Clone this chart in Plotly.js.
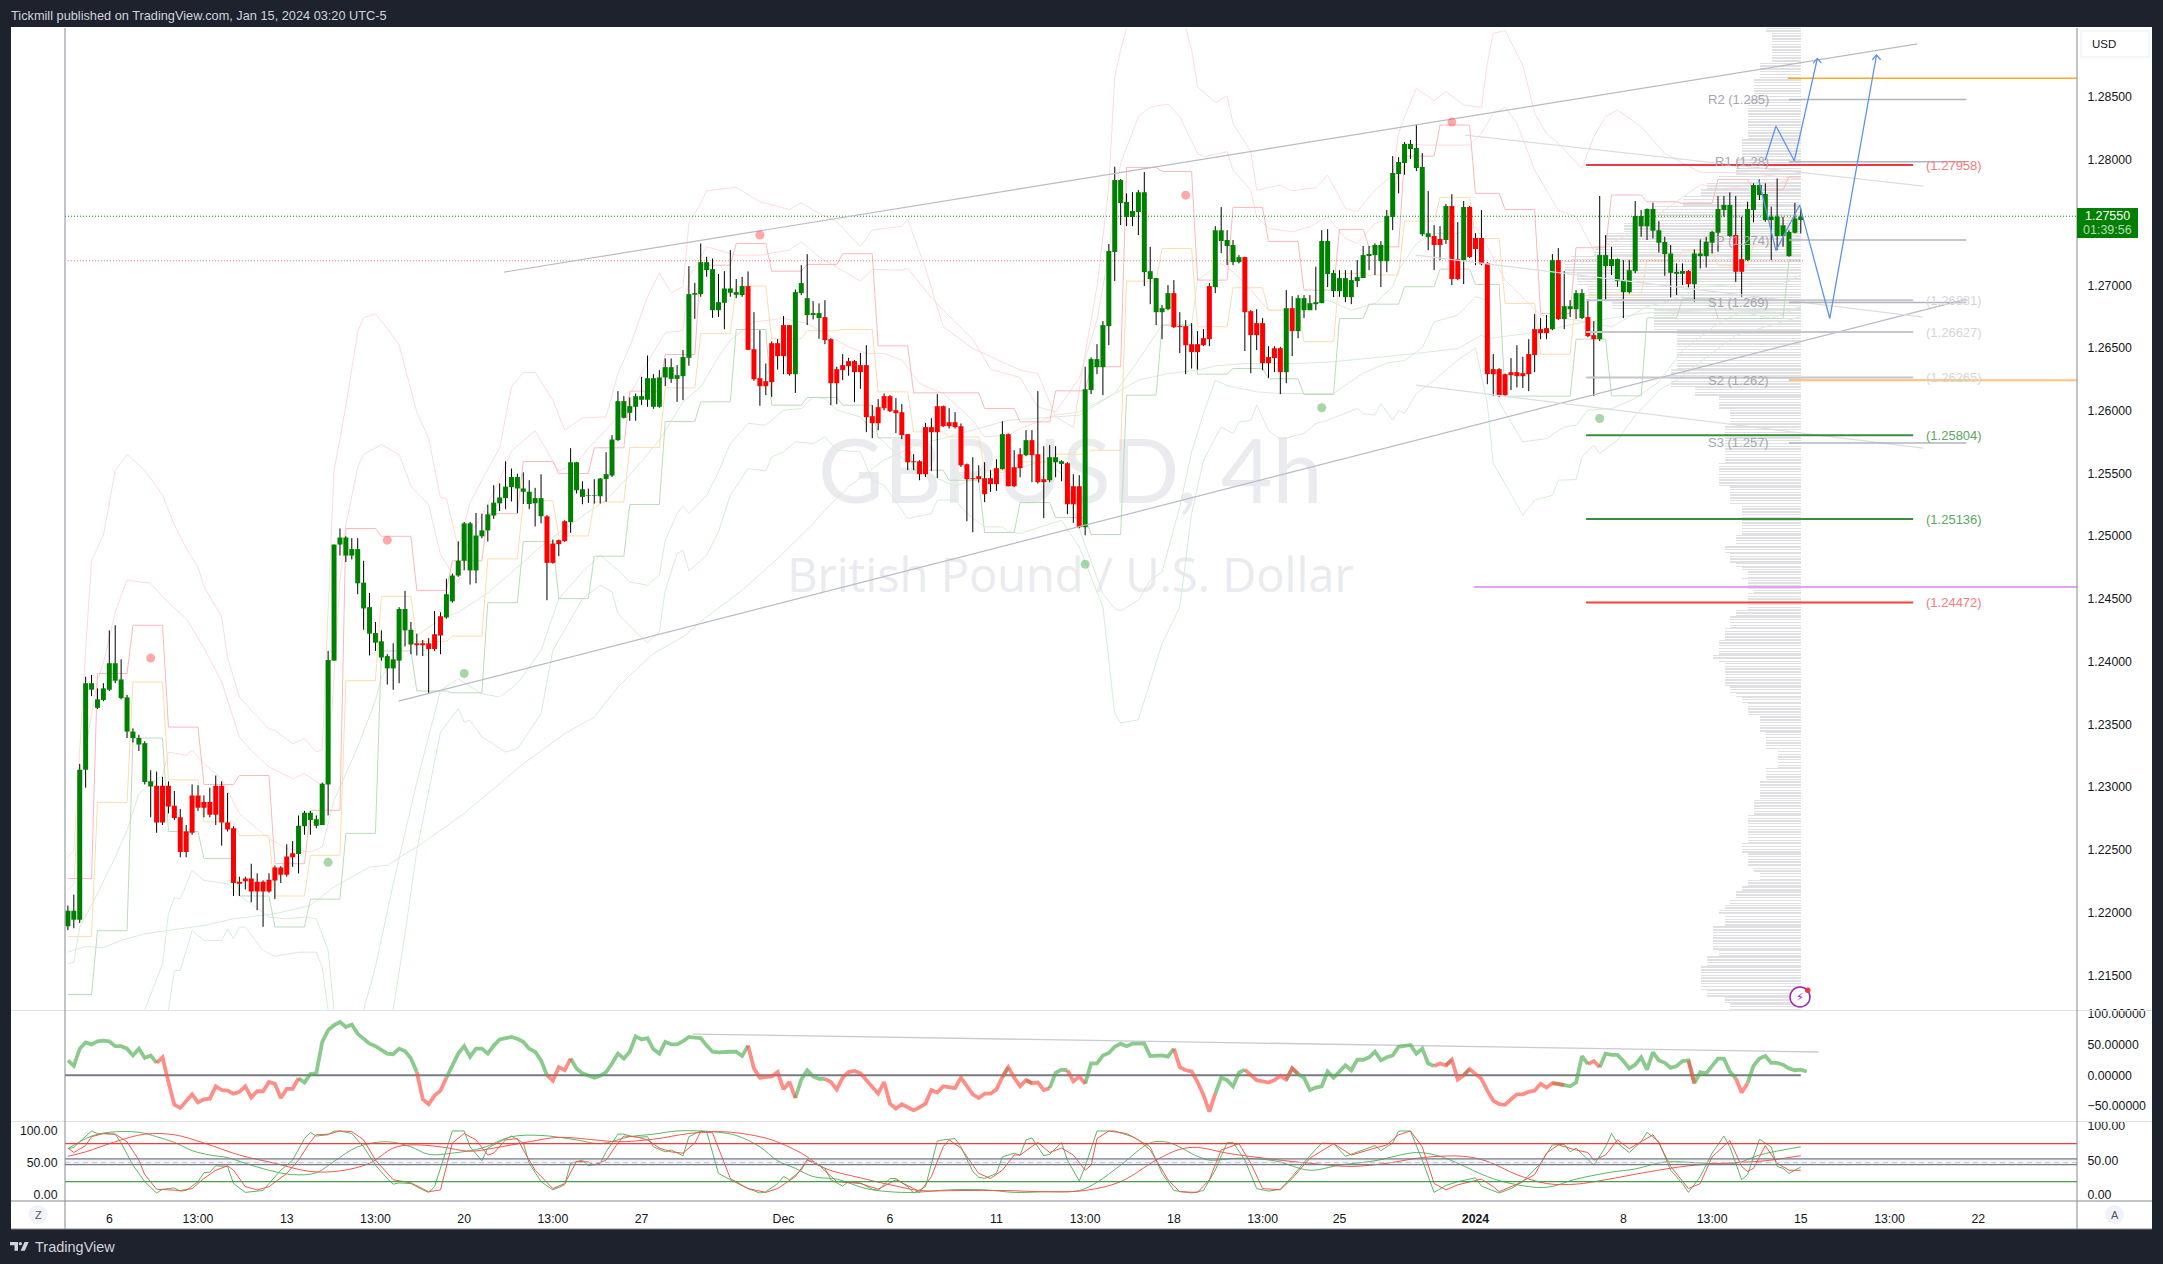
<!DOCTYPE html>
<html><head><meta charset="utf-8">
<script src="https://cdn.plot.ly/plotly-3.0.1.min.js"></script>
<style>html,body{margin:0;padding:0;background:#1e222d;overflow:hidden}</style></head>
<body><div id="chart" style="width:2163px;height:1264px"></div>
<script>
// ---- candles, prices in 1e-5 units ----
const bodyTop=[122014,122014,123139,123828,123828,123699,123787,123987,123987,123858,
123715,123442,123391,123350,123046,123010,123010,123010,122851,122759,
122646,122933,122933,122882,122882,123010,123010,122717,122672,122245,
122271,122271,122245,122245,122261,122358,122358,122446,122472,122692,
122795,122795,122743,123026,124013,124933,124989,124989,124897,124897,
124629,124434,124228,124162,124044,124018,124419,124419,124254,124146,
124146,124146,124218,124362,124537,124686,124804,125102,125102,125005,
125046,125174,125267,125308,125395,125472,125472,125380,125354,125303,125303,
125158,124941,124968,125119,125589,125589,125374,125326,125326,
125459,125494,125770,126076,126076,126036,126116,126116,126259,126259,
126265,126347,126347,126283,126427,126929,126937,127184,127184,127128,
126865,126974,126974,126945,126993,126993,126490,126259,126235,126538,
126538,126682,126682,126945,127017,126897,126778,126778,126746,126570,
126331,126363,126395,126395,126363,126363,125956,126028,126116,126116,
126004,125988,125813,125597,125597,125869,125869,126036,126036,125908,
125908,125876,125573,125462,125478,125462,125462,125542,125813,125813,
125549,125653,125765,125765,125653,125454,125629,125629,125597,125581,
125398,125398,126171,126411,126411,126682,127272,127838,127838,127663,
127591,127742,127742,127112,127057,126817,126937,126937,126674,126674,
126530,126530,126578,126993,127439,127439,127360,127320,127224,127224,
126793,126698,126698,126427,126498,126498,126817,126817,126897,126897,
126857,126865,127352,127352,127097,127057,127057,127041,127065,127240,
127248,127320,127320,127551,127894,127982,128125,128125,128093,127942,
127415,127392,127368,127631,127631,127208,127623,127623,127376,127376,
127176,126331,126331,126291,126307,126307,126299,126451,126650,126650,
126658,127200,127200,126833,126833,126937,126937,126746,126602,127240,
127240,127208,127208,127041,127120,127551,127551,127607,127607,127439,
127344,127253,127107,127113,127113,127253,127253,127346,127424,127607,
127639,127639,127400,127208,127607,127798,127798,127727,127546,127548,
127479,127424,127532,127548];
const bodyBot=[121891,121942,121942,123139,123776,123632,123694,123776,123848,123709,
123442,123391,123339,123041,123005,122717,122717,122846,122754,122482,
122482,122636,122836,122836,122779,122779,122717,122661,122235,122230,
122250,122168,122168,122168,122168,122256,122302,122302,122441,122466,
122687,122738,122692,122698,123021,124008,124933,124845,124845,124624,
124424,124223,124151,124033,123946,123946,124008,124249,124136,124131,
124131,124100,124100,124208,124352,124481,124686,124804,124727,124727,
124999,125046,125164,125262,125303,125390,125380,125354,125256,125262,125159,
124787,124787,124936,124960,125111,125366,125313,125321,125321,
125318,125456,125483,125765,125943,125983,126031,126087,126087,126031,
126031,126265,126254,126254,126275,126421,126924,126929,127120,126801,
126801,126860,126940,126924,126921,126485,126251,126195,126195,126227,
126435,126435,126291,126291,126937,126762,126762,126738,126562,126219,
126219,126323,126355,126307,126307,125948,125900,125900,126020,125996,
125980,125805,125589,125589,125494,125494,125829,125829,125876,125876,
125869,125565,125454,125454,125454,125334,125414,125414,125534,125398,
125398,125542,125645,125645,125430,125430,125446,125589,125576,125254,
125254,125071,125071,126164,126347,126347,126674,127264,127655,127543,
127543,127583,127104,127049,126785,126785,126809,126666,126666,126522,
126467,126467,126522,126570,126985,127352,127312,127184,127184,126785,
126602,126602,126379,126379,126419,126307,126307,126634,126634,126801,
126801,126849,126857,127089,126953,126953,126905,126905,127033,127057,
127232,127240,127192,127192,127543,127886,127974,128085,127934,127407,
127384,127320,127320,127360,127049,127049,127200,127224,127288,127168,
126291,126291,126124,126124,126283,126275,126275,126291,126443,126618,
126618,126650,126730,126730,126809,126809,126738,126594,126570,126570,
127152,127152,127033,126945,126945,127112,127471,127471,127434,127338,
127248,127099,127091,127091,127009,127009,127232,127232,127338,127418,
127599,127392,127107,127107,127200,127599,127719,127519,127519,127392,
127392,127232,127418,127519];
const high=[122055,122143,123185,123879,123894,123787,123828,124249,124290,124018,
123735,123468,123417,123365,123134,123123,123082,123046,122969,122826,
122698,123021,123015,122933,122995,123092,123046,122954,122687,122286,
122286,122389,122312,122256,122312,122374,122369,122544,122569,122774,
122810,122810,122774,123036,124085,124933,125061,124999,124984,124984,
124804,124547,124316,124249,124059,124146,124434,124563,124316,124223,
124172,124187,124403,124393,124660,124701,124958,125113,125113,125185,
125179,125251,125406,125421,125596,125539,125498,125508,125446,125385,125493,
125167,124973,124973,125127,125701,125592,125438,125379,125454,
125464,125669,125805,126156,126116,126105,126137,126270,126440,126291,
126323,126416,126416,126363,126483,127152,127019,127333,127227,127213,
127089,127112,127280,127049,127067,127110,126785,126642,126376,126552,
126570,126754,126682,126966,127160,127248,126873,126855,126881,126578,
126350,126451,126421,126403,126461,126522,126044,126092,126137,126124,
126100,126052,125813,125653,125605,125903,125940,126132,126041,126020,
125988,125898,125579,125629,125565,125589,125526,125613,125916,125818,
125685,125701,125845,125845,126156,125717,125725,125717,125605,125589,
125494,125486,126350,126424,126530,126714,127328,127944,127846,127732,
127742,127758,127902,127306,127057,126841,127001,127041,126785,126722,
126698,126634,126650,127017,127471,127623,127439,127360,127240,127227,
126801,126809,126738,126514,126514,126509,126961,126913,126921,126921,
126921,127147,127439,127447,127120,127120,127120,127120,127200,127312,
127312,127333,127352,127599,128029,128021,128141,128157,128277,128053,
127750,127479,127471,127647,127726,127503,127671,127631,127415,127599,
127184,126451,126339,126296,126419,126522,126429,126570,126770,126738,
126762,127248,127296,127112,126881,126961,126969,126889,126714,127711,
127400,127306,127213,127200,127200,127671,127599,127612,127657,127511,
127386,127320,127174,127174,127121,127285,127365,127386,127434,127711,
127711,127740,127711,127546,127665,127812,127843,127812,127626,127851,
127546,127439,127657,127612];
const low=[121860,121875,121917,122995,123725,123622,123684,123766,123828,123699,
123391,123355,123288,123021,122759,122636,122698,122790,122738,122441,
122441,122620,122810,122759,122759,122698,122533,122646,122132,122132,
122184,122081,122019,121886,122158,122107,122235,122286,122364,122312,
122620,122620,122672,122698,122774,124008,124845,124794,124814,124537,
124254,124049,124085,124008,123817,123776,123828,124121,124059,124049,
124044,123745,124085,124059,124342,124470,124676,124727,124614,124624,
124984,124958,125138,125200,125215,125277,125185,125256,125215,125077,125102,
124489,124781,124840,124955,125026,125340,125254,125265,125260,
125260,125273,125472,125760,125938,125919,125919,126044,126031,126015,
126023,126195,126222,126070,126084,126358,126732,126908,127067,126740,
126748,126650,126908,126897,126908,126483,126238,126039,126124,126110,
126328,126291,126280,126142,126921,126682,126727,126573,126530,126044,
126052,126243,126278,126068,126174,125829,125781,125845,126004,125988,
125821,125773,125526,125526,125446,125472,125518,125464,125871,125858,
125858,125552,125119,125031,125427,125271,125353,125361,125531,125398,
125390,125470,125637,125430,125419,125143,125430,125470,125438,125175,
125106,125063,125007,126132,126291,126124,126522,127033,127479,127471,
127471,127400,126993,126849,126682,126570,126801,126658,126459,126291,
126336,126328,126514,126514,126937,127256,127160,127160,127174,126475,
126299,126483,126323,126262,126307,126132,126219,126435,126578,126738,
126801,126801,126857,126985,126905,126908,126865,126849,126985,127057,
127120,127081,126985,127104,127439,127732,127881,128006,127910,127392,
127280,127120,127200,127328,127001,127041,127009,127216,127160,127160,
126211,126116,126108,126116,126164,126185,126180,126156,126307,126570,
126570,126642,126722,126650,126746,126730,126730,126586,126116,126554,
126881,127081,126988,126738,126934,127097,127386,127360,127373,127261,
127075,126903,126921,127001,126982,126868,127134,127142,127253,127267,
127546,127386,127027,126908,127195,127501,127679,127506,127200,127280,
127307,127227,127413,127413];
const trendRuns=[['G',15],['R',24],['G',20],['R',5],['G',17],['R',4],['G',30],['R',8],['G',5],['R',30],['G',1],['R',3],['G',1],['R',3],['G',3],['R',3],['G',15],['R',7],['G',5],['R',7],['G',1],['R',1],['G',23],['R',2],['G',1],['R',2],['G',1],['R',14],['G',1],['R',1],['G',4],['R',2],['G',15],['R',1],['G',7],['R',2],['G',10]];

// step channels: the bar each level starts at, and its price
const stepBars=[0,5,11,17,23,29,35,41,47,53,59,65,71,77,83,89,95,101,107,113,119,125,131,137,143,149,155,161,167,173,179,185,191,197,203,209,215,220,226,232,238,243,249,255,261,267,273,279,285,291,293];
const stepUpper=[122271,123905,124290,123478,123021,123092,122389,122815,125061,124999,124568,124804,125179,125595,125499,125704,126156,126448,127160,127333,127112,127166,127251,126517,126142,126142,126017,125911,126158,126350,127939,127907,127041,127620,127349,126961,127445,127306,128029,128277,127732,127604,126775,127299,127719,127665,127652,127843,127758,127865,127865];
const stepMid=[121808,122877,123838,123057,122723,122615,122132,122456,123848,124521,124162,124203,124819,125282,125002,125273,125706,126182,126615,126993,126573,126637,126647,126150,125831,125791,125526,125592,125653,125685,127033,127293,126669,126980,126801,126549,127094,127081,127511,127700,127373,126855,126450,126916,126921,127200,127275,127155,127328,127533,127533];
const stepLower=[121346,121855,123391,122646,122430,122132,121885,122107,122631,124085,123766,123751,124470,124958,124502,124840,125252,125914,126070,126647,126044,126105,126044,125783,125526,125446,125029,125268,125148,125013,126124,126682,126291,126336,126254,126129,126735,126849,126988,127128,127006,126116,126116,126570,126118,126740,126895,126735,126735,127200,127200];

// faint envelope curves: [bar, price]
const outerUpper=[[0,122442],[1,122495],[3,124090],[4,124804],[6,125009],[8,125523],[10,125652],[13,125523],[16,125328],[18,125087],[20,124907],[22,124753],[23,124598],[26,124357],[27,124033],[29,123718],[31,123612],[34,123465],[35,123452],[38,123346],[40,123386],[42,123279],[43,123300],[44,124400],[45,125523],[47,126037],[49,126628],[50,126741],[52,126772],[54,126654],[56,126525],[59,125986],[61,125780],[63,125307],[64,125302],[66,124907],[68,125266],[70,125446],[73,125703],[75,126191],[77,126304],[79,126304],[82,126084],[84,125845],[87,125943],[91,125951],[93,126296],[95,126509],[98,126908],[100,127099],[102,126940],[104,126988],[105,127493],[107,127652],[108,127753],[113,127780],[117,127665],[122,127604],[124,127657],[127,127572],[130,127506],[134,127306],[136,127439],[141,127471],[142,127524],[145,127134],[148,126669],[153,126496],[156,126429],[161,126323],[164,126296],[167,125951],[170,125866],[172,126456],[174,126988],[176,127785],[177,128662],[178,128875],[179,129048],[182,129700],[186,129700],[189,129048],[190,128875],[191,128582],[194,128457],[196,128508],[197,128290],[200,128064],[201,127758],[205,127798],[207,127753],[211,127777],[213,127878],[216,127612],[218,127586],[221,127758],[224,127878],[225,128210],[226,128343],[228,128569],[231,128471],[233,128543],[236,128436],[239,128418],[240,128768],[241,129008],[243,129029],[246,128755],[248,128370],[250,128210],[252,128131],[256,127931],[258,128184],[260,128343],[262,128396],[266,128263],[270,128050],[276,127900],[282,127900],[293,127850]];
const innerUpper=[[0,122176],[1,122229],[2,123027],[5,123851],[6,123987],[8,124393],[10,124650],[14,124624],[17,124470],[20,124342],[23,124110],[26,123840],[29,123399],[31,123290],[34,123160],[38,123067],[40,123107],[43,123014],[44,123107],[46,124650],[47,125087],[49,125550],[50,125652],[53,125729],[56,125652],[58,125400],[61,125250],[63,124855],[66,124624],[68,125010],[70,125164],[73,125450],[75,125678],[79,125841],[83,125520],[86,125580],[88,125700],[90,125800],[93,125950],[98,126385],[101,126620],[104,126640],[105,127066],[108,127307],[113,127240],[117,127240],[122,127280],[124,127346],[127,127226],[134,127033],[136,127126],[141,127120],[142,127134],[146,126900],[148,126800],[153,126570],[156,126330],[161,126264],[164,126030],[167,125990],[171,126257],[174,126722],[176,127253],[177,127679],[178,127971],[181,128343],[183,128418],[186,128444],[188,128343],[191,128051],[192,128024],[196,128064],[197,127918],[200,127758],[201,127546],[203,127453],[207,127426],[210,127466],[213,127546],[216,127373],[218,127333],[221,127493],[223,127519],[224,127679],[226,128131],[229,128117],[237,128117],[239,128210],[241,128370],[243,128418],[245,128290],[248,127918],[252,127599],[255,127546],[258,127280],[262,127360],[266,127466],[270,127600],[276,127800],[282,127780],[288,127800],[293,127865]];
const centerBand=[[0,121592],[1,121605],[2,121884],[5,122150],[8,122442],[10,122655],[12,122947],[14,123027],[16,123093],[17,123279],[20,123253],[21,123293],[23,123186],[26,123067],[29,122788],[34,122588],[37,122508],[41,122482],[43,122522],[45,122894],[49,123319],[52,123691],[53,123877],[57,124136],[63,124342],[66,124393],[71,124547],[76,124753],[81,124958],[88,125193],[91,125286],[95,125486],[100,125765],[104,126070],[107,126190],[110,126429],[112,126562],[116,126708],[121,126735],[125,126695],[128,126615],[132,126509],[135,126456],[138,126456],[141,126403],[144,126217],[148,126137],[153,125924],[155,125791],[159,125805],[161,125858],[167,125964],[171,125990],[177,126137],[181,126403],[185,126682],[190,126682],[191,127041],[195,127174],[197,127107],[200,126961],[203,126801],[206,126801],[213,126881],[217,126801],[221,126855],[224,126988],[225,127120],[228,127333],[231,127413],[235,127413],[238,127466],[240,127307],[243,127041],[247,126855],[249,126762],[251,126748],[255,126722],[261,126669],[267,126828],[273,126908],[276,126988],[285,127014],[290,127014],[293,127081]];
const centerPink=[[16,43],[116,171],[191,206],[238,251]];
const longAverage=[[0,121684],[3,121730],[6,121719],[9,121778],[13,121831],[17,121857],[23,121897],[28,121950],[35,121990],[41,122057],[45,122203],[51,122362],[54,122376],[57,122469],[59,122522],[63,122655],[67,122788],[71,122947],[77,123186],[84,123426],[89,123558],[93,123798],[95,123891],[99,124064],[104,124197],[108,124356],[114,124569],[120,124821],[126,125100],[128,125207],[132,125393],[138,125606],[144,125738],[148,125780],[159,125924],[171,125964],[174,126050],[177,126137],[181,126243],[186,126296],[191,126323],[194,126357],[199,126376],[208,126376],[214,126390],[223,126430],[228,126456],[235,126496],[239,126602],[240,126575],[249,126629],[255,126695],[261,126740],[267,126780],[279,126800],[285,126790],[291,126800],[293,126830]];
const innerLower=[[13,121225],[16,121591],[17,121990],[18,122118],[19,122110],[21,122336],[23,122256],[27,122229],[29,122136],[34,121964],[37,121950],[40,121964],[42,121950],[44,121698],[45,121219],[47,120700],[50,121225],[52,121565],[55,122229],[59,123040],[63,123771],[66,123864],[70,123744],[73,123718],[76,123824],[80,124090],[83,124500],[87,124715],[90,124848],[93,124728],[95,124635],[98,124609],[100,124689],[101,124968],[103,125180],[104,125239],[105,125180],[108,125326],[110,125513],[112,125738],[115,125898],[118,125885],[121,126004],[124,126017],[126,126110],[128,126097],[130,126004],[134,125951],[137,125791],[140,125658],[145,125500],[150,125400],[155,125480],[159,125520],[165,125600],[168,125500],[171,125061],[175,124542],[177,124423],[178,124404],[181,124489],[183,124649],[185,124715],[188,125233],[190,125671],[192,125977],[194,126243],[196,126200],[201,126150],[205,126137],[209,126137],[214,126137],[219,126300],[223,126380],[226,126400],[229,126500],[231,126709],[235,126762],[238,126908],[240,126880],[241,126200],[242,126070],[246,125751],[250,125778],[253,125871],[255,125884],[257,126004],[261,126017],[265,126097],[269,126230],[273,126480],[279,126695],[283,126789],[288,126735],[293,126828]];
const outerLower=[[17,121225],[18,121538],[19,121538],[20,121698],[21,121857],[23,121778],[26,121778],[27,121871],[28,121791],[29,121884],[30,121884],[33,121698],[35,121650],[39,121684],[42,121684],[43,121565],[44,121225],[46,120540],[55,121225],[57,121831],[59,122495],[63,123439],[66,123625],[67,123519],[68,123532],[70,123399],[74,123279],[76,123306],[80,123585],[82,124090],[87,124500],[90,124609],[92,124556],[93,124383],[96,124237],[98,124152],[100,124237],[101,124569],[103,124861],[104,124888],[105,124723],[108,124848],[110,125034],[112,125326],[115,125539],[118,125520],[119,125632],[121,125672],[123,125752],[126,125738],[128,125792],[130,125685],[134,125672],[136,125446],[138,125406],[142,125140],[146,125180],[147,125287],[150,125287],[152,125180],[155,125074],[158,125074],[159,125034],[161,125021],[168,125127],[171,124914],[175,124436],[177,123585],[178,123511],[181,123537],[185,124143],[188,124435],[190,125180],[192,125605],[195,125871],[197,125818],[198,125911],[200,125924],[201,126044],[203,125844],[205,125770],[209,125818],[211,125897],[213,125924],[218,126017],[219,125977],[221,125964],[222,126057],[224,125924],[225,126004],[226,125977],[228,126137],[231,126243],[235,126403],[238,126500],[240,126057],[241,125578],[243,125419],[246,125166],[248,125286],[251,125326],[252,125446],[255,125451],[256,125632],[258,125725],[259,125658],[262,125765],[265,125964],[267,126057],[269,126163],[272,126243],[282,126600],[293,126750]];

// pivots and trend markers
const redDotBar=[14,54,117,189,234], redDotPrice=[124028,124968,127400,127718,128300];
const greenDotBar=[44,67,172,212,259], greenDotPrice=[122400,123905,124776,126023,125938];
const lastPrice=127550, redDotted=127195;
const levelVals=[127958,126881,126627,126265,125804,125136,124472];
const levelLabels=['(1.27958)','(1.26881)','(1.26627)','(1.26265)','(1.25804)','(1.25136)','(1.24472)'];
const levelColors=['#f23645','#c4c6cc','#c4c6cc','#c4c6cc','#388e3c','#388e3c','#f44336'];
const levelTextColors=['#f77c80','#d5d6da','#d5d6da','#d5d6da','#5aa75e','#5aa75e','#f77c80'];
const pivotVals=[128481,127984,127360,126863,126243,125743];
const pivotLabels=['R2 (1.285)','R1 (1.28)','P (1.274)','S1 (1.269)','S2 (1.262)','S3 (1.257)'];
const wedgeUpX=[73.7,312.7], wedgeUpP=[127104,128923];
const wedgeLowX=[55.9,321], wedgeLowP=[123685,126889];
const chanX=[236.3,313.7], chanTop=[128197,127790];
const chanX2=[227.9,313.7], chanMid=[127240,126746], chanBot=[126203,125701];
const arrow1X=[287,288.8,291.9,295.8], arrow1P=[127998,128269,127992,128808];
const arrow2X=[285.9,288.8,292.8,297.9,305.8], arrow2P=[127838,127275,127639,126735,128835];
const head1X=[295.1,295.8,296.5], head1P=[128770,128808,128770];
const head2X=[305.1,305.8,306.5], head2P=[128797,128835,128797];

// volume profile: run start price -> row count
const profilePrice=[129048,129008,128768,128636,128476,128157,127998,127865,127812,127758,127705,127626,127493,127413,127307,127227,127187,127094,126988,126881,126802,126642,126323,126190,126110,126004,125871,125579,125393,125259,125007,124914,124861,124781,124754,124714,124661,124648,124568,124542,124409,124356,124263,124170,124050,124023,123984,123798,123744,123718,123665,123558,123439,123306,123146,123040,122894,122774,122548,122468,122375,122309,122256,122203,122163,122096,122057,122017,121990,121884,121698,121645,121565,121379,121326,121272,121220];
const profileCount=[6,5,7,8,9,10,11,14,16,17,20,25,30,33,35,39,40,38,36,32,25,21,22,18,14,12,13,14,12,10,11,13,12,11,10,9,10,9,8,9,11,12,13,14,15,14,13,12,11,10,9,7,6,4,6,7,8,9,10,9,8,7,9,10,11,12,13,14,13,15,14,16,17,16,13,12,12];

// CCI, one value per bar
const cci=[24,15,43,53,50,55,56,55,47,47,43,32,43,28,32,20,29,-11,-48,-53,-42,-31,-44,-39,-38,-18,-24,-25,-30,-27,-18,-36,-26,-26,-11,-14,-37,-22,-22,-5,-12,2,3,54,73,81,86,78,82,67,58,51,47,41,35,34,43,39,27,5,-39,-47,-33,-25,-4,16,35,47,30,43,43,35,48,58,60,62,59,54,43,38,24,0,-9,13,8,27,11,3,0,-4,-1,5,19,35,27,38,63,58,60,42,35,54,50,50,55,62,61,60,48,38,37,
38,38,38,31,48,11,-4,-3,-2,5,-23,-11,-37,-7,8,-2,-6,-6,-11,-23,-4,5,7,3,-8,-19,-30,-11,-46,-54,-47,-52,-57,-52,-46,-24,-28,-18,-20,-21,-4,-18,-31,-37,-30,-30,-23,-3,13,-4,-18,-8,-13,-12,-24,-21,4,9,8,-10,-2,-14,19,19,32,36,46,51,47,51,51,51,31,31,32,30,43,13,8,6,-11,-32,-59,-30,-4,-8,-18,4,9,0,-8,-10,-12,-8,-1,-7,11,2,-4,-24,-20,-18,6,-4,5,16,8,25,25,29,38,24,29,32,46,47,49,35,43,19,15,19,
16,25,-7,0,10,1,-6,-25,-41,-47,-48,-39,-31,-31,-27,-25,-14,-20,-13,-14,-16,-18,-12,31,18,23,13,35,33,33,23,11,17,29,9,37,24,20,12,15,23,24,-13,5,3,16,27,27,6,-5,-28,-13,15,27,31,20,20,17,11,8,9,6];
const cciTrendX=[105.7,296], cciTrendV=[66.6,37.6];

// stochastics
const kX=[0,1,2,4,5,8,9,11,13,15,16,18,19,20,22,23,24,25,27,28,30,33,34,36,38,40,41,42,44,45,46,48,50,52,54,55,56,58,60,61,62,64,65,67,68,70,71,73,75,77,78,80,82,84,85,87,88,90,91,93,94,96,98,99,101,102,104,105,107,108,110,112,115,117,118,120,121,122,124,125,128,129,131,132,134,136,137,139,140,142,143,145,147,148,150,151,153,154,155,157,158,160,161,162,163,165,166,168,169,171,172,174,177,180,183,185,187,190,192,194,196,197,199,201,203,205,207,210,212,214,216,219,221,222,224,225,227,229,231,233,235,238,239,242,244,246,249,251,253,254,255,258,260,261,262,264,266,267,269,271,273,274,276,278,280,281,283,284,286,288,289,290,291,293];
const kV=[72,74,83,100,96,95,81,46,20,2,8,10,5,6,20,34,35,45,44,17,3,6,17,38,54,88,98,92,94,100,100,96,75,46,25,16,18,17,7,3,12,70,100,100,75,53,73,83,92,81,49,20,7,15,49,54,45,49,67,95,95,90,91,75,67,70,61,91,100,99,33,23,9,2,4,17,28,23,38,55,41,23,13,20,18,8,6,25,25,12,2,12,84,86,88,75,36,27,25,33,59,65,62,86,89,61,63,82,54,21,44,100,100,91,75,33,6,2,6,38,82,82,54,9,5,8,28,61,81,80,60,70,77,69,81,100,100,54,3,14,20,26,13,2,9,20,49,78,79,67,73,46,75,96,81,66,83,98,83,38,17,3,28,65,92,75,23,31,87,75,44,41,33,43];
const dX=[0,1,3,4,6,8,10,12,13,15,17,19,21,23,25,27,28,30,32,34,37,39,41,42,44,46,48,50,52,55,58,60,61,63,64,65,67,69,71,72,74,76,77,79,82,84,86,88,89,91,93,94,96,98,100,102,104,106,107,109,112,115,118,120,123,125,127,130,134,137,140,143,144,146,148,149,151,154,156,158,160,161,164,166,168,170,172,173,174,176,179,181,183,186,188,191,193,195,198,200,202,205,207,210,214,217,221,223,225,227,229,231,233,235,239,241,242,245,248,250,252,255,257,258,260,262,264,266,268,269,271,274,276,278,281,283,284,285,287,289,291,293];
const dV=[73,66,77,91,96,95,83,54,31,8,7,6,9,25,38,45,38,12,7,12,33,54,83,94,95,100,99,86,54,23,18,9,4,7,44,81,96,86,62,65,86,88,70,38,9,17,52,51,46,54,81,92,91,86,73,67,65,81,99,97,25,9,3,9,28,54,46,20,17,8,23,9,3,28,75,86,73,33,25,38,62,62,82,66,73,62,38,46,88,100,96,86,70,23,4,3,23,70,80,49,9,7,25,57,80,62,73,78,94,100,75,17,7,15,24,12,4,16,31,65,78,70,66,54,62,86,72,83,94,81,44,9,17,59,85,44,36,41,77,49,38,38];
const slowGreenX=[0,2,4,7,12,15,18,21,24,27,30,34,38,42,45,49,54,58,61,65,70,75,80,86,90,95,99,103,107,110,113,117,120,123,126,130,132,135,139,143,149,155,160,165,171,174,178,183,186,191,193,198,204,210,215,221,228,232,235,240,244,250,255,261,265,270,277,282,286,290,293];
const slowGreen=[72,83,92,98,98,91,82,69,62,58,49,38,31,34,52,75,83,75,63,65,73,91,93,86,80,91,95,100,100,98,93,75,53,41,28,24,18,9,4,3,7,7,3,4,6,19,46,81,82,60,54,57,53,38,46,53,66,60,49,28,17,11,24,35,40,51,49,49,62,70,75];
const slowRedX=[0,3,8,13,18,23,29,35,41,46,51,55,58,63,68,72,78,83,89,93,99,105,110,114,119,124,128,134,140,144,151,158,166,172,178,184,188,191,196,204,210,217,223,229,236,240,245,250,255,260,267,274,280,287,293];
const slowRed=[60,67,83,95,94,81,62,49,36,37,49,73,78,75,68,73,83,90,86,83,87,96,99,96,86,65,41,26,13,6,6,6,4,6,20,54,71,74,65,55,49,44,49,58,60,52,31,17,16,23,35,45,49,53,61];
const stochLevels=[80,20,56,47,50];

// axis labels
const tickBars=[7,22,37,52,67,82,97,121,139,157,172,187,202,215,238,263,278,293,308,323];
const tickText=['6','13:00','13','13:00','20','13:00','27','Dec','6','11','13:00','18','13:00','25','<b>2024</b>','8','13:00','15','13:00','22'];
const priceTicks=[1.215,1.22,1.225,1.23,1.235,1.24,1.245,1.25,1.255,1.26,1.265,1.27,1.28,1.285];

// ---- helpers for placing page furniture ----
const PL=65,PR=2077,PT=28,PB=1201;
const X=p=>(p-PL)/(PR-PL), Y=p=>(PB-p)/(PB-PT);
const pr=a=>a.map(v=>v==null?null:v/1e5);
const trend=[];trendRuns.forEach(([c,n])=>{for(let k=0;k<n;k++)trend.push(c);});
const lastBar=bodyTop.length-1, rightEdge=339.7;

function segs(cond){const x=[],a=[];for(let i=0;i<bodyTop.length;i++){if(cond(i)){x.push(i,i,null);a.push(bodyTop[i]/1e5,bodyBot[i]/1e5,null);}}return{x,y:a};}
function line(x,y,color,width,extra){return Object.assign({type:'scatter',mode:'lines',x,y,line:Object.assign({color,width},extra&&extra.line||{}),hoverinfo:'skip',showlegend:false},extra&&extra.t||{});}
function stepLine(vals,color){const x=[],y=[];vals.forEach((v,k)=>{if(k>0){x.push(stepBars[k]-1);y.push(vals[k-1]/1e5);}x.push(stepBars[k]);y.push(v/1e5);});return line(x,y,color,1);}
function band(pairs,color){return line(pairs.map(p=>p[0]),pairs.map(p=>p[1]/1e5),color,1);}

const traces=[];
// volume profile rows
{const ys=[],xs=[],bs=[];
 for(let r=0;r<profilePrice.length-1;r++){
  for(let p=profilePrice[r];p>profilePrice[r+1];p-=22){ys.push(p/1e5);xs.push(profileCount[r]);bs.push(293.1-profileCount[r]);}
 }
 traces.push({type:'bar',orientation:'h',y:ys,x:xs,base:bs,width:0.00011,marker:{color:'#e0e0e3',line:{width:0}},hoverinfo:'skip',showlegend:false});}
// watermark
traces.push({type:'scatter',mode:'text',x:[169.5],y:[1.25445],text:['GBPUSD, 4h'],textfont:{family:'Lato',size:90,color:'#e9ebee'},textposition:'middle center',hoverinfo:'skip',showlegend:false});
traces.push({type:'scatter',mode:'text',x:[169.5],y:[1.24650],text:['British Pound / U.S. Dollar'],textfont:{family:'Open Sans',size:47,color:'#e9ebee'},textposition:'middle center',hoverinfo:'skip',showlegend:false});
// envelopes
const pinkBand='#fcdcdc', greenBand='#d8ecd8';
traces.push(band(outerUpper,pinkBand));
traces.push(band(innerUpper,pinkBand));
traces.push(band(longAverage,greenBand));
traces.push(band(innerLower,greenBand));
traces.push(band(outerLower,greenBand));
{const inPink=x=>centerPink.some(([a,b])=>x>=a&&x<=b), inside=x=>centerPink.some(([a,b])=>x>a&&x<b);
 traces.push(line(centerBand.map(p=>p[0]),centerBand.map(p=>inside(p[0])?null:p[1]/1e5),greenBand,1));
 traces.push(line(centerBand.map(p=>p[0]),centerBand.map(p=>inPink(p[0])?p[1]/1e5:null),pinkBand,1));}
// step channels
traces.push(stepLine(stepUpper,'#f9b9bd'));
traces.push(stepLine(stepMid,'#fddcb0'));
traces.push(stepLine(stepLower,'#bcdcbc'));
// dotted lines
traces.push(line([-0.5,rightEdge],[lastPrice/1e5,lastPrice/1e5],'#008000',1,{line:{dash:'1px 2px'}}));
traces.push(line([0,lastBar+0.5],[redDotted/1e5,redDotted/1e5],'#ff6b6b',1,{line:{dash:'1px 2px'}}));
// candles
{const wx=[],wy=[];for(let i=0;i<high.length;i++){wx.push(i,i,null);wy.push(high[i]/1e5,low[i]/1e5,null);}
 traces.push(line(wx,wy,'#000000',1));
 const g=segs(i=>trend[i]==='G'),r=segs(i=>trend[i]==='R');
 traces.push(line(g.x,g.y,'#008000',5));
 traces.push(line(r.x,r.y,'#ff0000',5));}
// drawings
traces.push(line(wedgeUpX,pr(wedgeUpP),'#b8bac6',1.2));
traces.push(line(wedgeLowX,pr(wedgeLowP),'#b8bac6',1.2));
traces.push(line(chanX,pr(chanTop),'#dcdde2',1.3));
traces.push(line(chanX2,pr(chanMid),'#dcdde2',1.3));
traces.push(line(chanX2,pr(chanBot),'#dcdde2',1.3));
const annos=[];
levelVals.forEach((v,i)=>{
 traces.push(line([256.7,312],[v/1e5,v/1e5],levelColors[i],2));
 annos.push({xref:'x',yref:'y',x:313.9,y:v/1e5,text:levelLabels[i],showarrow:false,xanchor:'left',yanchor:'middle',font:{family:'Liberation Sans',size:13,color:levelTextColors[i]}});
});
pivotVals.forEach((v,i)=>{
 traces.push(line([291,321],[v/1e5,v/1e5],'#b2b5be',1.5));
 annos.push({xref:'x',yref:'y',x:288,y:v/1e5,text:pivotLabels[i],showarrow:false,xanchor:'right',yanchor:'middle',font:{family:'Liberation Sans',size:13,color:'#a3a6af'}});
});
traces.push(line([290.8,rightEdge],[1.28649,1.28649],'#ffa726',1.5));
traces.push(line([291,rightEdge],[1.26243,1.26243],'#ffc477',2));
traces.push(line([237.7,rightEdge],[1.24595,1.24595],'#e5a0f5',2));
traces.push(line(arrow1X,pr(arrow1P),'#5b93f3',1.3));
traces.push(line(arrow2X,pr(arrow2P),'#5b93f3',1.3));
traces.push(line(head1X,pr(head1P),'#5b93f3',1.3));
traces.push(line(head2X,pr(head2P),'#5b93f3',1.3));
traces.push({type:'scatter',mode:'markers',x:redDotBar,y:pr(redDotPrice),marker:{size:9,color:'rgba(255,82,82,0.5)'},hoverinfo:'skip',showlegend:false});
traces.push({type:'scatter',mode:'markers',x:greenDotBar,y:pr(greenDotPrice),marker:{size:9,color:'rgba(76,175,80,0.5)'},hoverinfo:'skip',showlegend:false});

// CCI pane
{const xs=[],g=[],r=[];
 traces.push(Object.assign(line(cciTrendX,cciTrendV,'#c9cad2',1.3),{yaxis:'y2'}));
 traces.push(Object.assign(line([-0.5,lastBar],[0,0],'#787b86',2),{yaxis:'y2'}));
 cci.forEach((v,i)=>{xs.push(i);const isG=trend[i]==='G',prevG=i>0&&trend[i-1]==='G',prevR=i>0&&trend[i-1]==='R';
   g.push(isG||prevG?v:null);
   r.push(!isG||prevR?v:null);});
 traces.push(Object.assign(line(xs,g,'rgba(76,175,80,0.65)',3.8),{yaxis:'y2'}));
 traces.push(Object.assign(line(xs,r,'rgba(255,82,70,0.65)',3.8),{yaxis:'y2'}));
}
// Stochastic pane
traces.push(Object.assign(line(slowGreenX,slowGreen,'#5cb562',1,{line:{shape:'spline'}}),{yaxis:'y3'}));
traces.push(Object.assign(line(slowRedX,slowRed,'#f4574f',1,{line:{shape:'spline'}}),{yaxis:'y3'}));
traces.push(Object.assign(line(kX,kV,'#5cb562',1),{yaxis:'y3'}));
traces.push(Object.assign(line(dX,dV,'#f4574f',1),{yaxis:'y3'}));
['#f23c3c','#43a047','#787b86','#787b86'].forEach((c,i)=>{traces.push(Object.assign(line([-0.5,rightEdge],[stochLevels[i],stochLevels[i]],c,1.2),{yaxis:'y3'}));});
traces.push(Object.assign(line([-0.5,rightEdge],[stochLevels[4],stochLevels[4]],'#c2c4ca',1,{line:{dash:'5px 4px'}}),{yaxis:'y3'}));
// invisible carrier for the right-hand stochastic scale
traces.push({type:'scatter',mode:'lines',x:[0,1],y:[0,100],line:{color:'rgba(0,0,0,0)',width:0},yaxis:'y4',hoverinfo:'skip',showlegend:false});

const txt='#131722', uiFont='Liberation Sans';
const shapes=[
 {type:'rect',xref:'paper',yref:'paper',x0:X(11),x1:X(2152),y0:Y(27),y1:Y(1229),fillcolor:'#ffffff',line:{width:0},layer:'below'},
 {type:'rect',xref:'x',yref:'y3',x0:-0.5,x1:rightEdge,y0:47,y1:56,fillcolor:'#f3f4f8',line:{width:0},layer:'below'},
 {type:'line',xref:'paper',yref:'paper',x0:X(11),x1:X(2152),y0:Y(1010.5),y1:Y(1010.5),line:{color:'#e0e3eb',width:1}},
 {type:'line',xref:'paper',yref:'paper',x0:X(11),x1:X(2152),y0:Y(1121.5),y1:Y(1121.5),line:{color:'#e0e3eb',width:1}},
 {type:'line',xref:'paper',yref:'paper',x0:X(11),x1:X(2152),y0:Y(1201),y1:Y(1201),line:{color:'#868993',width:1}},
 {type:'line',xref:'paper',yref:'paper',x0:X(11),x1:X(2152),y0:Y(1229),y1:Y(1229),line:{color:'#868993',width:1}},
 {type:'line',xref:'paper',yref:'paper',x0:X(65),x1:X(65),y0:Y(28),y1:Y(1229),line:{color:'#868993',width:1}},
 {type:'line',xref:'paper',yref:'paper',x0:X(2077),x1:X(2077),y0:Y(28),y1:Y(1229),line:{color:'#868993',width:1}},
 {type:'circle',xref:'paper',yref:'paper',x0:X(28.5),x1:X(47.5),y0:Y(1205),y1:Y(1224),fillcolor:'#f0f3fa',line:{width:0}},
 {type:'circle',xref:'paper',yref:'paper',x0:X(2105),x1:X(2124),y0:Y(1205),y1:Y(1224),fillcolor:'#f0f3fa',line:{width:0}},
 {type:'rect',xref:'paper',yref:'paper',x0:X(2081),x1:X(2149),y0:Y(31),y1:Y(57),fillcolor:'#ffffff',line:{color:'#f0f3fa',width:1.5}},
 {type:'rect',xref:'paper',yref:'paper',x0:X(2077),x1:X(2138),y0:Y(208),y1:Y(238),fillcolor:'#008000',line:{width:0}},
 {type:'circle',xref:'paper',yref:'paper',x0:X(1790),x1:X(1810),y0:Y(987),y1:Y(1007),fillcolor:'rgba(255,255,255,0.9)',line:{color:'#9c27b0',width:1.5}},
 {type:'circle',xref:'paper',yref:'paper',x0:X(1805),x1:X(1810.5),y0:Y(987.5),y1:Y(993),fillcolor:'#f23645',line:{width:0}},
 // TradingView mark
 {type:'path',xref:'paper',yref:'paper',path:`M${X(10)},${Y(1242)} L${X(18)},${Y(1242)} L${X(18)},${Y(1250.7)} L${X(14.5)},${Y(1250.7)} L${X(14.5)},${Y(1245.3)} L${X(10)},${Y(1245.3)} Z`,fillcolor:'#d1d4dc',line:{width:0}},
 {type:'circle',xref:'paper',yref:'paper',x0:X(18.7),x1:X(22),y0:Y(1242),y1:Y(1245.3),fillcolor:'#d1d4dc',line:{width:0}},
 {type:'path',xref:'paper',yref:'paper',path:`M${X(24.5)},${Y(1242)} L${X(28.7)},${Y(1242)} L${X(24.8)},${Y(1250.7)} L${X(20.6)},${Y(1250.7)} Z`,fillcolor:'#d1d4dc',line:{width:0}}
];
const pa=(px,py,text,size,color,anchor,extra)=>Object.assign({xref:'paper',yref:'paper',x:X(px),y:Y(py),text,showarrow:false,xanchor:anchor||'left',yanchor:'middle',font:{family:uiFont,size,color}},extra||{});
annos.push(pa(9,15,'Tickmill published on TradingView.com, Jan 15, 2024 03:20 UTC-5',12.75,'#d1d4dc'));
annos.push(pa(33,1247,'TradingView',14.5,'#d1d4dc'));
annos.push(pa(38,1215,'Z',11,'#50535e','center'));
annos.push(pa(2114.5,1215,'A',11,'#50535e','center'));
annos.push(pa(2090,44,'USD',11.5,txt));
annos.push(pa(2107,215.5,'1.27550',12.5,'#ffffff','center'));
annos.push(pa(2107,229.5,'01:39:56',12.5,'rgba(255,255,255,0.72)','center'));
annos.push(pa(1800,997,'⚡',11,'#9c27b0','center',{font:{family:'DejaVu Sans',size:11,color:'#9c27b0'}}));

const tf={family:uiFont,size:12.3,color:txt};
const noLine={showline:false,zeroline:false,showgrid:false};
const layout={
 width:2163,height:1264,margin:{l:PL,r:2163-PR,t:PT,b:1264-PB,pad:0},
 paper_bgcolor:'#1e222d',plot_bgcolor:'rgba(0,0,0,0)',showlegend:false,barmode:'overlay',bargap:0,
 xaxis:Object.assign({},noLine,{domain:[0,1],range:[-0.49,rightEdge],anchor:'y3',tickmode:'array',tickvals:tickBars,ticktext:tickText,ticks:'outside',ticklen:6,tickcolor:'rgba(0,0,0,0)',tickfont:tf}),
 yaxis:Object.assign({},noLine,{domain:[Y(1010.5),1],range:[1.212192,1.290502],side:'right',anchor:'x',tickmode:'array',tickvals:priceTicks,ticktext:priceTicks.map(v=>v.toFixed(5)),ticks:'outside',ticklen:7,tickcolor:'rgba(0,0,0,0)',tickfont:tf}),
 yaxis2:Object.assign({},noLine,{domain:[Y(1121.5),Y(1010.5)],range:[-75,104.8],side:'right',anchor:'x',tickmode:'array',tickvals:[-50,0,50,100],ticktext:['−50.00000','0.00000','50.00000','100.00000'],ticks:'outside',ticklen:7,tickcolor:'rgba(0,0,0,0)',tickfont:tf}),
 yaxis3:Object.assign({},noLine,{domain:[0,Y(1121.5)],range:[-10.6,115],side:'left',anchor:'x',tickmode:'array',tickvals:[0,50,100],ticktext:['0.00','50.00','100.00'],ticks:'outside',ticklen:4,tickcolor:'rgba(0,0,0,0)',tickfont:tf}),
 yaxis4:Object.assign({},noLine,{domain:[0,Y(1121.5)],overlaying:'y3',range:[-8.7,106.5],side:'right',anchor:'x',tickmode:'array',tickvals:[0,50,100],ticktext:['0.00','50.00','100.00'],ticks:'outside',ticklen:7,tickcolor:'rgba(0,0,0,0)',tickfont:tf}),
 shapes,annotations:annos
};
Plotly.newPlot('chart',traces,layout,{displayModeBar:false,staticPlot:true});
</script></body></html>
